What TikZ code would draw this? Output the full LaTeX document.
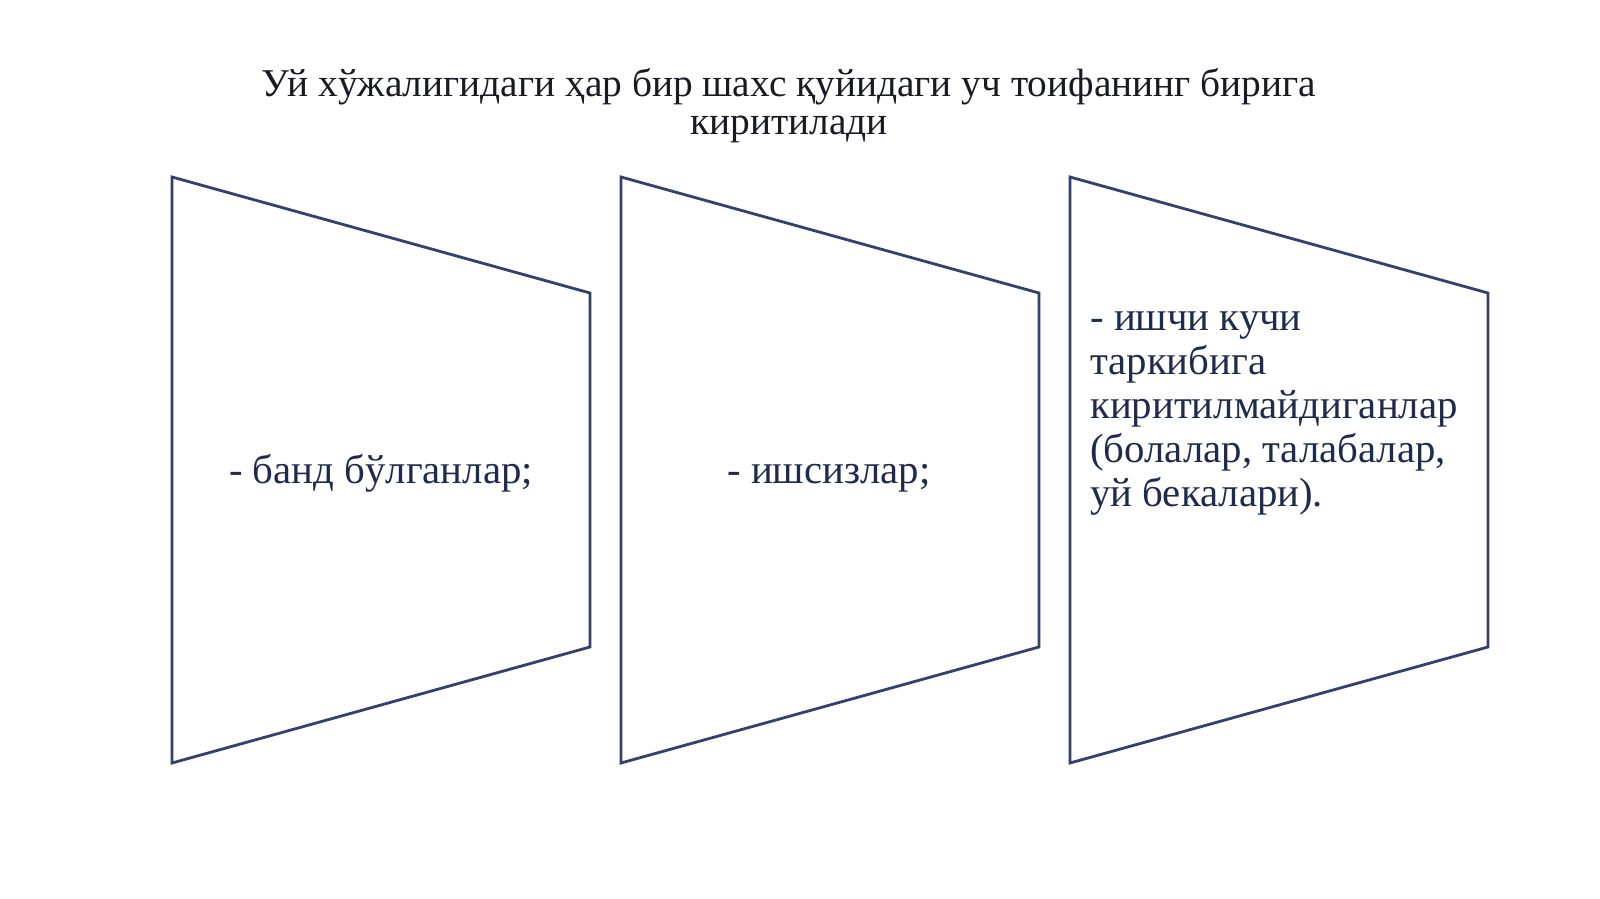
\documentclass[tikz,border=0pt]{standalone}
\usepackage{fontspec}
\setmainfont{Liberation Serif}
\usepackage{tikz}
\definecolor{boxline}{HTML}{34406E}
\definecolor{boxtext}{HTML}{1F2A4F}
\definecolor{titletext}{HTML}{1A1A24}

\begin{document}
\begin{tikzpicture}[x=0.025cm,y=-0.025cm,
    trap/.style={draw=boxline, line width=2pt, line join=miter},
    item/.style={text=boxtext, font=\fontsize{29}{31.2}\selectfont, inner sep=0pt}]
    \useasboundingbox (0,0) rectangle (1600,899);
    \node[text=titletext, font=\fontsize{28}{27}\selectfont, align=center] (title) at (789,106)
        {Уй хўжалигидаги ҳар бир шахс қуйидаги уч тоифанинг бирига\\киритилади};
    \foreach \x/\n in {172/a,621/b,1070/c} {
        \draw[trap] (\x,177) coordinate (\n-tl) -- (\x+418,293) -- (\x+418,647) -- (\x,763) -- cycle;
    }
    \node[item, anchor=base] (band) at (381,483) {- банд бўлганлар;};
    \node[item, anchor=base] (ishsiz) at (829,483) {- ишсизлар;};
    \node[item, align=left, anchor=north west] (boshqa) at (1090,312)
        {- ишчи кучи\\таркибига\\киритилмайдиганлар\\(болалар, талабалар,\\уй бекалари).};
\end{tikzpicture}
\end{document}
